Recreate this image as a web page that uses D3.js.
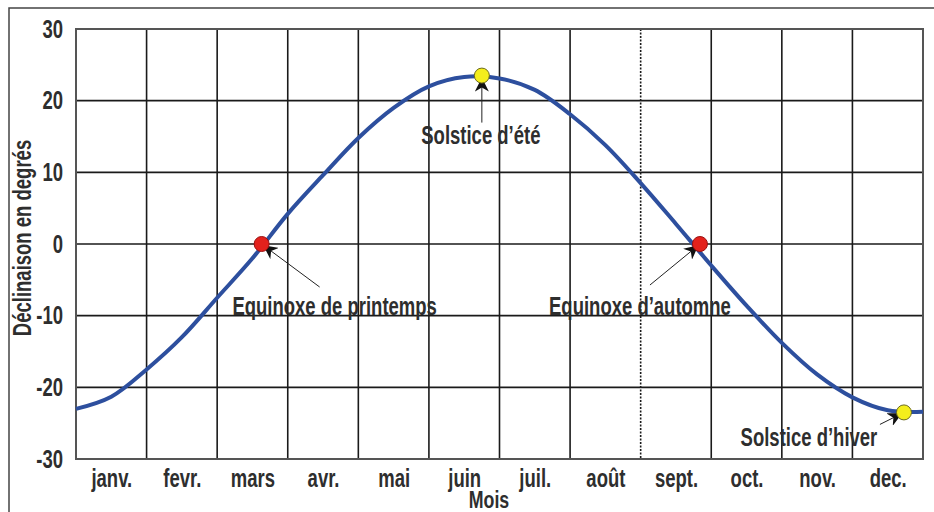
<!DOCTYPE html>
<html>
<head>
<meta charset="utf-8">
<script src="https://cdn.jsdelivr.net/npm/d3@7"></script>
<style>
  body { margin: 0; background: #fff; }
  text { font-family: "Liberation Sans", Arial, sans-serif; font-weight: bold; fill: #2e2e2e; }
</style>
</head>
<body>
<div id="chart"></div>
<script>

// Data
// ==============================
var months = ["janv.", "fevr.", "mars", "avr.", "mai", "juin", "juil.", "août", "sept.", "oct.", "nov.", "dec."];

// position in months (0 = 1st january) and declination in degrees
var monthPos = [0, 0.5, 1, 1.5, 2, 2.5, 3, 3.5, 4, 4.5, 5, 5.5, 6, 6.5, 7, 7.5, 8, 8.5, 9, 9.5, 10, 10.5, 11, 11.5, 12];
var declination = [-23.0, -21.3, -17.5, -13.0, -7.5, -2.0, 4.2, 9.6, 14.8, 19.0, 22.0, 23.3, 23.1, 21.5, 18.1, 13.8, 8.5, 2.8, -3.0, -8.6, -13.8, -18.2, -21.4, -23.2, -23.4];

var yTicks = [30, 20, 10, 0, -10, -20, -30];

var eventNames = ["Equinoxe de printemps", "Solstice d\u2019été", "Equinoxe d\u2019automne", "Solstice d\u2019hiver"];
var eventPos = [2.63, 5.75, 8.84, 11.73];
var eventDecl = [0, 23.5, 0, -23.5];
var eventKind = ["equinoxe", "solstice", "equinoxe", "solstice"];

var svgWidth = 934;
var svgHeight = 512;

var margin = { top: 29, right: 11, bottom: 53, left: 76 };
var width = svgWidth - margin.left - margin.right;
var height = svgHeight - margin.top - margin.bottom;

// the original uses a tall condensed face, so squeeze the text sideways
var squeeze = 0.74;

var svg = d3.select("#chart")
  .append("svg")
  .attr("width", svgWidth)
  .attr("height", svgHeight);

// outer frame
svg.append("rect")
  .attr("x", 9)
  .attr("y", 8)
  .attr("width", 960)
  .attr("height", 560)
  .attr("fill", "none")
  .attr("stroke", "#444")
  .attr("stroke-width", 1.5);

var defs = svg.append("defs");
defs.append("marker")
  .attr("id", "arrow")
  .attr("viewBox", "0 0 10 10")
  .attr("refX", 10)
  .attr("refY", 5)
  .attr("markerWidth", 14)
  .attr("markerHeight", 14)
  .attr("markerUnits", "userSpaceOnUse")
  .attr("orient", "auto")
  .append("path")
  .attr("d", "M0,0 L10,5 L0,10 L3,5 Z")
  .attr("fill", "#111");

var chartGroup = svg.append("g")
  .attr("transform", `translate(${margin.left}, ${margin.top})`);

function addText(g, x, y, str, size, rot) {
  return g.append("text")
    .attr("transform", `translate(${x}, ${y}) rotate(${rot || 0}) scale(${squeeze}, 1)`)
    .attr("text-anchor", "middle")
    .style("font-size", size + "px")
    .text(str);
}

// Scales
// ==============================
var xScale = d3.scaleLinear().domain([0, 12]).range([0, width]);
var yScale = d3.scaleLinear().domain([-30, 30]).range([height, 0]);

// Grid
// ==============================
chartGroup.append("g")
  .selectAll("line")
  .data(d3.range(1, 12))
  .enter()
  .append("line")
  .attr("x1", d => xScale(d))
  .attr("x2", d => xScale(d))
  .attr("y1", 0)
  .attr("y2", height)
  .attr("stroke", "#1a1a1a")
  .attr("stroke-width", 1.6)
  .attr("stroke-dasharray", d => d === 8 ? "2,1.5" : null);

chartGroup.append("g")
  .selectAll("line")
  .data(yTicks.filter(d => d !== 30 && d !== -30))
  .enter()
  .append("line")
  .attr("x1", 0)
  .attr("x2", width)
  .attr("y1", d => yScale(d))
  .attr("y2", d => yScale(d))
  .attr("stroke", "#1a1a1a")
  .attr("stroke-width", 1.6);

chartGroup.append("rect")
  .attr("width", width)
  .attr("height", height)
  .attr("fill", "none")
  .attr("stroke", "#555")
  .attr("stroke-width", 2);

// Axes labels (ticks)
// ==============================
var leftAxis = d3.axisLeft(yScale)
  .tickValues(yTicks)
  .tickFormat(d => String(d))
  .tickSize(0);
var yAxisG = chartGroup.append("g").call(leftAxis);
yAxisG.select(".domain").remove();
yAxisG.selectAll("text")
  .attr("font-family", null)
  .attr("x", -13 / squeeze)
  .attr("transform", `scale(${squeeze}, 1)`)
  .style("font-size", "25px");

var bottomAxis = d3.axisBottom(xScale)
  .tickValues(d3.range(12).map(d => d + 0.5))
  .tickFormat((d, i) => months[i])
  .tickSize(0)
  .tickPadding(10);
var xAxisG = chartGroup.append("g")
  .attr("transform", `translate(0, ${height})`)
  .call(bottomAxis);
xAxisG.select(".domain").remove();
xAxisG.selectAll("text")
  .attr("font-family", null)
  .attr("transform", `scale(${squeeze}, 1)`)
  .style("font-size", "25px");

// Curve
// ==============================
var points = monthPos.map((m, i) => [m, declination[i]]);
var line = d3.line()
  .x(d => xScale(d[0]))
  .y(d => yScale(d[1]))
  .curve(d3.curveCatmullRom);

chartGroup.append("path")
  .datum(points)
  .attr("d", line)
  .attr("fill", "none")
  .attr("stroke", "#2d4f9e")
  .attr("stroke-width", 4);

// Events: arrows, dots, texts
// ==============================
var labelDx = [73, -1, -60, -95];
var labelDy = [71, 68, 71, 34];
var tailDx = [58, 0, -50, -24];
var tailDy = [43, 47, 41, 12];

eventNames.forEach(function(name, i) {
  var cx = xScale(eventPos[i]);
  var cy = yScale(eventDecl[i]);
  var dx = tailDx[i], dy = tailDy[i];
  var len = Math.sqrt(dx * dx + dy * dy);

  chartGroup.append("line")
    .attr("x1", cx + dx)
    .attr("y1", cy + dy)
    .attr("x2", cx + dx * 2 / len)
    .attr("y2", cy + dy * 2 / len)
    .attr("stroke", "#222")
    .attr("stroke-width", 1)
    .attr("marker-end", "url(#arrow)");
});

eventNames.forEach(function(name, i) {
  var cx = xScale(eventPos[i]);
  var cy = yScale(eventDecl[i]);
  var solstice = eventKind[i] === "solstice";
  chartGroup.append("circle")
    .attr("cx", cx)
    .attr("cy", cy)
    .attr("r", 7.5)
    .attr("fill", solstice ? "#f4ee1c" : "#e3211c")
    .attr("stroke", solstice ? "#6b6a20" : "#9a1010")
    .attr("stroke-width", 1);
});

eventNames.forEach(function(name, i) {
  addText(chartGroup,
    xScale(eventPos[i]) + labelDx[i],
    yScale(eventDecl[i]) + labelDy[i],
    name, 25);
});

// Axis titles
// ==============================
addText(svg, 31, 238, "Déclinaison en degrés", 25, -90);
addText(svg, 489, 508, "Mois", 24);

</script>
</body>
</html>
